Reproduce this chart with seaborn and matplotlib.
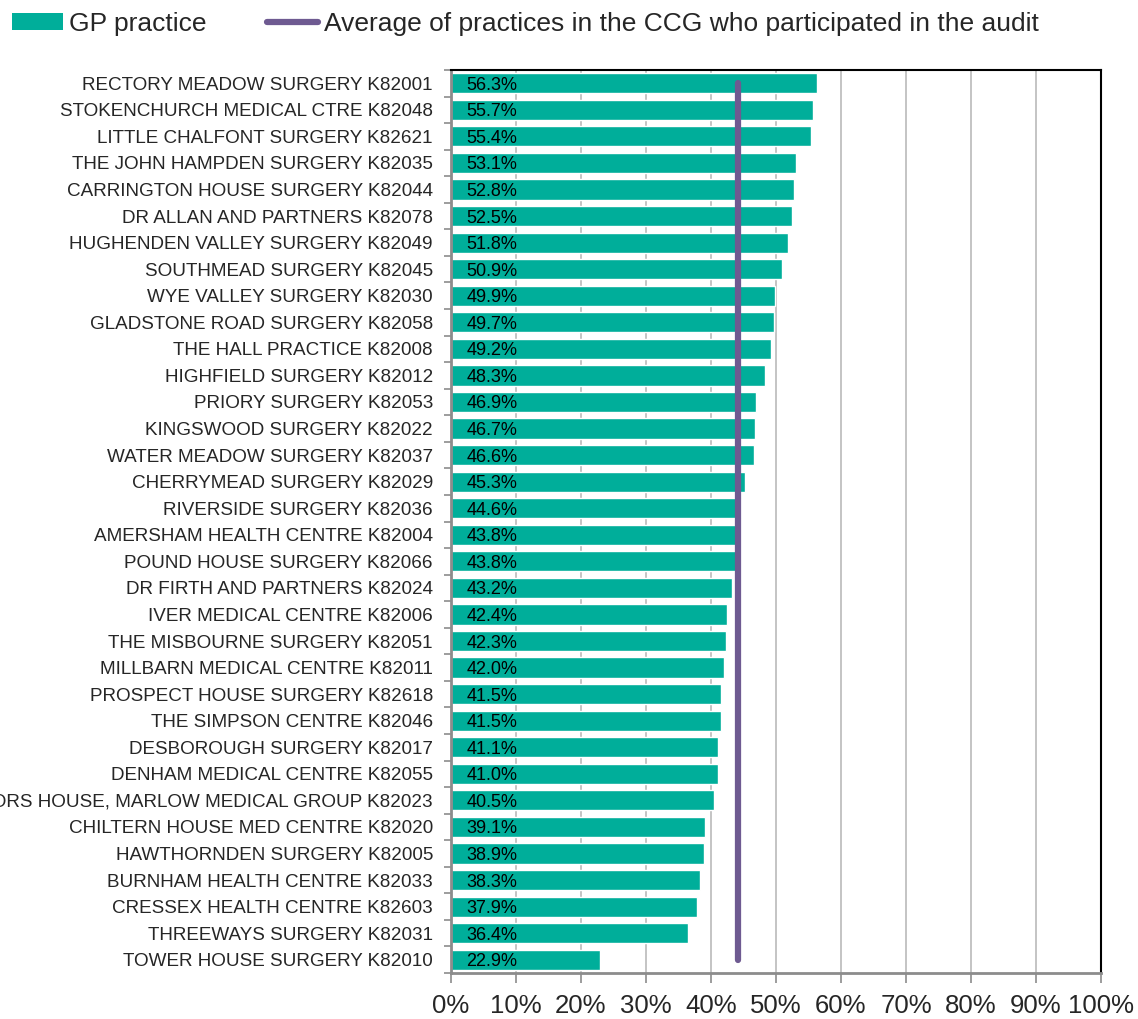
import numpy as np
import pandas as pd
import matplotlib
matplotlib.use("Agg")
import matplotlib.pyplot as plt
import seaborn as sns
from matplotlib.patches import Patch
from matplotlib.lines import Line2D

practices = [
    "RECTORY MEADOW SURGERY K82001",
    "STOKENCHURCH MEDICAL CTRE K82048",
    "LITTLE CHALFONT SURGERY K82621",
    "THE JOHN HAMPDEN SURGERY K82035",
    "CARRINGTON HOUSE SURGERY K82044",
    "DR ALLAN AND PARTNERS K82078",
    "HUGHENDEN VALLEY SURGERY K82049",
    "SOUTHMEAD SURGERY K82045",
    "WYE VALLEY SURGERY K82030",
    "GLADSTONE ROAD SURGERY K82058",
    "THE HALL PRACTICE K82008",
    "HIGHFIELD SURGERY K82012",
    "PRIORY SURGERY K82053",
    "KINGSWOOD SURGERY K82022",
    "WATER MEADOW SURGERY K82037",
    "CHERRYMEAD SURGERY K82029",
    "RIVERSIDE SURGERY K82036",
    "AMERSHAM HEALTH CENTRE K82004",
    "POUND HOUSE SURGERY K82066",
    "DR FIRTH AND PARTNERS K82024",
    "IVER MEDICAL CENTRE K82006",
    "THE MISBOURNE SURGERY K82051",
    "MILLBARN MEDICAL CENTRE K82011",
    "PROSPECT HOUSE SURGERY K82618",
    "THE SIMPSON CENTRE K82046",
    "DESBOROUGH SURGERY K82017",
    "DENHAM MEDICAL CENTRE K82055",
    "DOCTORS HOUSE, MARLOW MEDICAL GROUP K82023",
    "CHILTERN HOUSE MED CENTRE K82020",
    "HAWTHORNDEN SURGERY K82005",
    "BURNHAM HEALTH CENTRE K82033",
    "CRESSEX HEALTH CENTRE K82603",
    "THREEWAYS SURGERY K82031",
    "TOWER HOUSE SURGERY K82010",
]
pct = [56.3, 55.7, 55.4, 53.1, 52.8, 52.5, 51.8, 50.9, 49.9, 49.7, 49.2, 48.3,
       46.9, 46.7, 46.6, 45.3, 44.6, 43.8, 43.8, 43.2, 42.4, 42.3, 42.0, 41.5,
       41.5, 41.1, 41.0, 40.5, 39.1, 38.9, 38.3, 37.9, 36.4, 22.9]
ccg_average = 44.1
x_ticks = [0, 10, 20, 30, 40, 50, 60, 70, 80, 90, 100]

teal = "#00AE9A"
purple = "#6E5A91"

sns.set_style("white")
plt.rcParams["font.family"] = ["Liberation Sans", "DejaVu Sans"]

df = pd.DataFrame({"practice": practices, "pct": pct})

fig = plt.figure(figsize=(11.38, 10.19), dpi=100)
ax = fig.add_axes([451 / 1138, 1 - 973 / 1019, 650 / 1138, 903 / 1019])

sns.barplot(data=df, x="pct", y="practice", color=teal, saturation=1,
            width=0.76, orient="h", ax=ax, zorder=2)

# value labels inside the bars, at the left
for i, v in enumerate(pct):
    ax.text(2.4, i, f"{v:.1f}%", va="center_baseline", ha="left", fontsize=13,
            color="black", zorder=3)

# CCG average line
ax.plot([ccg_average, ccg_average], [0, len(pct) - 1], color=purple, lw=4.5,
        solid_capstyle="round", zorder=4)

ax.set_xlim(0, 100)
ax.set_ylim(len(pct) - 0.5, -0.5)
ax.set_xticks(x_ticks)
ax.set_xticklabels([f"{t}%" for t in x_ticks], fontsize=18.5)
ax.set_xlabel("")
ax.set_ylabel("")
ax.set_yticks(range(len(pct)))
ax.set_yticklabels(practices, fontsize=13.6, va="center_baseline")
ax.tick_params(axis="y", which="major", length=0, pad=13)
ax.set_yticks(np.arange(-0.5, len(pct), 1), minor=True)
ax.tick_params(axis="y", which="minor", length=5, width=1.2, color="#8C8C8C", direction="out", left=True)
ax.tick_params(axis="x", length=7, width=1.2, color="#8C8C8C", direction="out", pad=8, bottom=True)

ax.grid(axis="x", color="#BFBFBF", lw=1.3, zorder=0)
ax.set_axisbelow(True)

ax.spines["left"].set_color("#8C8C8C")
ax.spines["bottom"].set_color("#8C8C8C")
ax.spines["left"].set_linewidth(2)
ax.spines["bottom"].set_linewidth(2)
ax.spines["top"].set_color("black")
ax.spines["right"].set_color("black")
ax.spines["top"].set_linewidth(1.5)
ax.spines["right"].set_linewidth(1.5)

handles = [
    Patch(facecolor=teal, edgecolor="none"),
    Line2D([0], [0], color=purple, lw=4.5, solid_capstyle="round"),
]
fig.legend(handles, ["GP practice", "Average of practices in the CCG who participated in the audit"],
           loc="upper left", bbox_to_anchor=(0.0, 1.0), ncol=2, frameon=False,
           fontsize=19, handlelength=1.95, handleheight=0.6, handletextpad=0.2,
           columnspacing=2.3, borderaxespad=0.25, borderpad=0.2)

fig.savefig("out.png", dpi=100)
